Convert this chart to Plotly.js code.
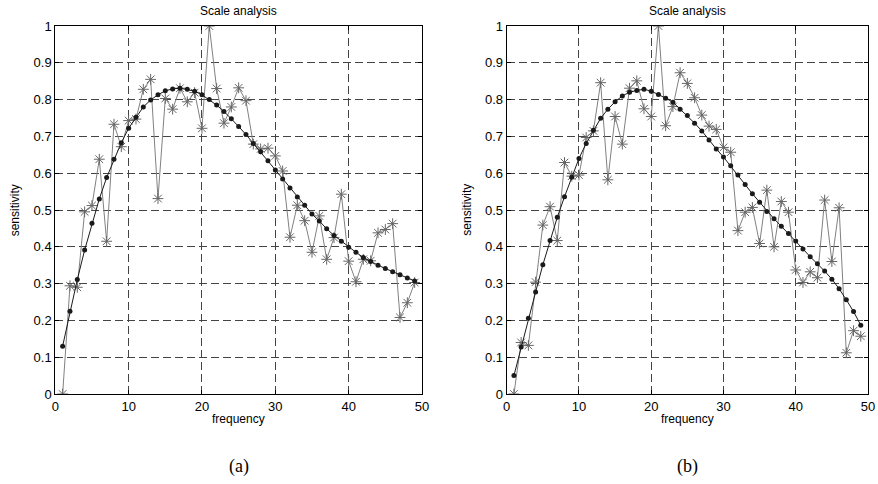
<!DOCTYPE html>
<html>
<head>
<meta charset="utf-8">
<script src="https://cdn.plot.ly/plotly-3.0.1.min.js"></script>
<style>html,body{margin:0;padding:0;background:#fff}#chart{width:878px;height:484px}</style>
</head>
<body>
<div id="chart"></div>
<script>
const freq = [1,2,3,4,5,6,7,8,9,10,11,12,13,14,15,16,17,18,19,20,21,22,23,24,25,26,27,28,29,30,31,32,33,34,35,36,37,38,39,40,41,42,43,44,45,46,47,48,49];

const fitA = [0.130,0.225,0.311,0.391,0.464,0.530,0.588,0.638,0.683,0.722,0.752,0.780,0.799,0.813,0.824,0.829,0.831,0.828,0.823,0.813,0.800,0.785,0.768,0.748,0.727,0.705,0.681,0.658,0.634,0.609,0.584,0.560,0.535,0.513,0.489,0.470,0.449,0.431,0.415,0.399,0.385,0.371,0.360,0.350,0.341,0.332,0.324,0.315,0.307];
const rawA = [0.000,0.294,0.290,0.495,0.512,0.638,0.415,0.733,0.672,0.743,0.747,0.828,0.855,0.531,0.803,0.774,0.831,0.794,0.819,0.722,1.000,0.830,0.736,0.780,0.832,0.797,0.679,0.666,0.668,0.647,0.606,0.426,0.513,0.471,0.385,0.484,0.366,0.425,0.543,0.361,0.305,0.366,0.362,0.438,0.447,0.463,0.208,0.248,0.303];

const fitB = [0.050,0.128,0.206,0.277,0.351,0.417,0.480,0.536,0.589,0.640,0.681,0.717,0.749,0.774,0.794,0.810,0.820,0.825,0.828,0.823,0.814,0.804,0.793,0.774,0.757,0.736,0.715,0.690,0.666,0.644,0.620,0.595,0.569,0.544,0.521,0.496,0.476,0.456,0.436,0.416,0.394,0.373,0.354,0.334,0.312,0.286,0.256,0.224,0.187];
const rawB = [0.000,0.140,0.132,0.304,0.459,0.509,0.417,0.629,0.592,0.595,0.697,0.715,0.846,0.582,0.754,0.679,0.831,0.851,0.775,0.754,1.000,0.729,0.781,0.873,0.844,0.805,0.758,0.728,0.719,0.670,0.657,0.444,0.494,0.507,0.409,0.554,0.400,0.523,0.494,0.337,0.303,0.332,0.316,0.527,0.360,0.506,0.112,0.172,0.157];

const xTicks = [0,10,20,30,40,50];
const yTicks = [0,0.1,0.2,0.3,0.4,0.5,0.6,0.7,0.8,0.9,1];
const yTickText = ['0','0.1','0.2','0.3','0.4','0.5','0.6','0.7','0.8','0.9','1'];

const titleText = 'Scale analysis';
const xLabel = 'frequency';
const yLabel = 'sensitivity';
const panelLabels = ['(a)','(b)'];

function rawTrace(y, xa, ya){
  return {x:freq, y:y, xaxis:xa, yaxis:ya, mode:'lines+markers', type:'scatter',
    line:{color:'#808080', width:1},
    marker:{symbol:'asterisk-open', size:9, color:'#666', line:{color:'#666', width:1}},
    showlegend:false, hoverinfo:'skip'};
}
function fitTrace(y, xa, ya){
  return {x:freq, y:y, xaxis:xa, yaxis:ya, mode:'lines+markers', type:'scatter',
    line:{color:'#1a1a1a', width:1},
    marker:{symbol:'circle', size:5, color:'#1a1a1a'},
    showlegend:false, hoverinfo:'skip'};
}

const W = 878, H = 484;
const yDom = [(H-394)/H, (H-26)/H];
const xDomA = [55.3/W, 422/W];
const xDomB = [506.7/W, 868/W];

const tickFont = {family:'Liberation Sans, Arial, sans-serif', size:13, color:'#000'};

function xaxisCfg(dom, anchor){
  return {domain:dom, anchor:anchor, range:[0,50], tickvals:xTicks, ticktext:xTicks.map(String),
    ticks:'inside', ticklen:4, tickcolor:'#000', showline:true, linecolor:'#000', linewidth:1, mirror:'ticks',
    showgrid:true, gridcolor:'#444', gridwidth:1, griddash:'8px,4px', zeroline:false,
    tickfont:tickFont, fixedrange:true};
}
function yaxisCfg(anchor){
  return {domain:yDom, anchor:anchor, range:[0,1], tickvals:yTicks, ticktext:yTickText,
    ticks:'inside', ticklen:4, tickcolor:'#000', showline:true, linecolor:'#000', linewidth:1, mirror:'ticks',
    showgrid:true, gridcolor:'#444', gridwidth:1, griddash:'8px,4px', zeroline:false,
    tickfont:tickFont, fixedrange:true};
}

const sansFont = {family:'Liberation Sans, Arial, sans-serif', size:12, color:'#000'};
const serifFont = {family:'Liberation Serif, Times New Roman, serif', size:18, color:'#000'};

function panelAnnotations(xd, label){
  const cx = (xd[0]+xd[1])/2;
  return [
    {text:titleText, xref:'paper', yref:'paper', x:cx, y:(H-11)/H, showarrow:false, font:sansFont, xanchor:'center', yanchor:'middle'},
    {text:xLabel, xref:'paper', yref:'paper', x:cx, y:(H-419)/H, showarrow:false, font:sansFont, xanchor:'center', yanchor:'middle'},
    {text:yLabel, xref:'paper', yref:'paper', x:(xd[0]*W-40)/W, y:(H-210)/H, showarrow:false, font:sansFont, textangle:-90, xanchor:'center', yanchor:'middle'},
    {text:label, xref:'paper', yref:'paper', x:cx, y:(H-466)/H, showarrow:false, font:serifFont, xanchor:'center', yanchor:'middle'}
  ];
}

const data = [
  rawTrace(rawA,'x','y'), fitTrace(fitA,'x','y'),
  rawTrace(rawB,'x2','y2'), fitTrace(fitB,'x2','y2')
];

const layout = {
  width:W, height:H, margin:{l:0,r:0,t:0,b:0},
  paper_bgcolor:'#fff', plot_bgcolor:'#fff',
  xaxis:xaxisCfg(xDomA,'y'), yaxis:yaxisCfg('x'),
  xaxis2:xaxisCfg(xDomB,'y2'), yaxis2:yaxisCfg('x2'),
  annotations:[].concat(panelAnnotations(xDomA, panelLabels[0]), panelAnnotations(xDomB, panelLabels[1])),
  showlegend:false
};

Plotly.newPlot('chart', data, layout, {staticPlot:true, displayModeBar:false});
</script>
</body>
</html>
